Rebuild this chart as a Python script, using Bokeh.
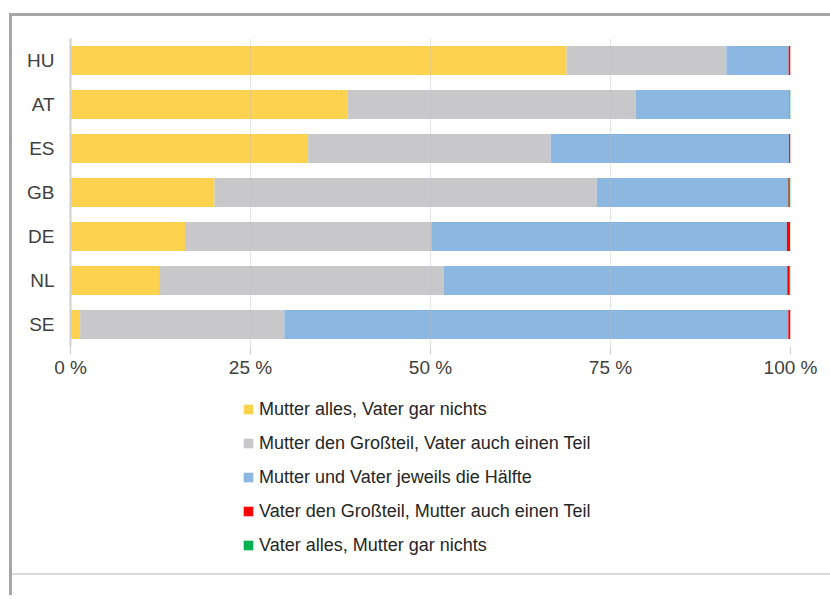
from bokeh.plotting import figure
from bokeh.models import (FactorRange, Range1d, FixedTicker, Legend, LegendItem,
                          Column, Spacer)
from bokeh.embed import file_html
from bokeh.resources import INLINE

countries = ["HU", "AT", "ES", "GB", "DE", "NL", "SE"]
mutter_alles = [68.9, 38.5, 33.0, 20.0, 15.9, 12.3, 1.35]
mutter_grossteil = [22.2, 40.0, 33.7, 53.1, 34.2, 39.5, 28.35]
haelfte = [8.65, 21.35, 33.1, 26.55, 49.4, 47.75, 70.0]
vater_grossteil = [0.25, 0.0, 0.2, 0.1, 0.45, 0.25, 0.3]
vater_alles = [0.0, 0.15, 0.0, 0.25, 0.05, 0.2, 0.0]

series_keys = ["m_alles", "m_gross", "haelfte", "v_gross", "v_alles"]
series_labels = [
    "Mutter alles, Vater gar nichts",
    "Mutter den Großteil, Vater auch einen Teil",
    "Mutter und Vater jeweils die Hälfte",
    "Vater den Großteil, Mutter auch einen Teil",
    "Vater alles, Mutter gar nichts",
]
series_colors = ["#FDD24F", "#C8C8CA", "#8CB7E0", "#FF0000", "#00B050"]
x_ticks = [0, 25, 50, 75, 100]
x_tick_labels = ["0 %", "25 %", "50 %", "75 %", "100 %"]

data = dict(country=countries, m_alles=mutter_alles, m_gross=mutter_grossteil,
            haelfte=haelfte, v_gross=vater_grossteil, v_alles=vater_alles)

FONT = "Liberation Sans"
FS = "19px"
W = 818

# ---------------- main chart ----------------
p = figure(width=W, height=369, output_backend="svg", toolbar_location=None,
           y_range=FactorRange(*reversed(countries)), x_range=Range1d(0, 100),
           min_border_left=58, min_border_right=40, min_border_top=22,
           min_border_bottom=39)
p.outline_line_color = None
p.background_fill_color = "white"
p.border_fill_color = "white"

renderers = p.hbar_stack(series_keys, y="country", height=0.66, color=series_colors,
                         line_color=None, source=data)

p.xaxis.ticker = FixedTicker(ticks=x_ticks)
p.xaxis.major_label_overrides = {t: l for t, l in zip(x_ticks, x_tick_labels)}
p.xaxis.axis_line_color = None
p.xaxis.major_tick_line_color = "#D0D0D0"
p.xaxis.major_tick_out = 8
p.xaxis.major_tick_in = 0
p.xaxis.minor_tick_line_color = None
p.xaxis.major_label_standoff = 2
p.xaxis.major_label_text_font = FONT
p.xaxis.major_label_text_font_size = FS
p.xaxis.major_label_text_color = "#404040"

p.yaxis.axis_line_color = "#D0D0D0"
p.yaxis.axis_line_width = 2
p.yaxis.major_tick_line_color = None
p.yaxis.major_tick_out = 0
p.yaxis.major_tick_in = 0
p.yaxis.minor_tick_line_color = None
p.yaxis.major_label_standoff = 16
p.yaxis.major_label_text_font = FONT
p.yaxis.major_label_text_font_size = FS
p.yaxis.major_label_text_color = "#404040"

p.ygrid.grid_line_color = None
p.xgrid.ticker = FixedTicker(ticks=x_ticks[1:])
p.xgrid.grid_line_color = "#BFBFBF"
p.xgrid.grid_line_alpha = 0.4
p.xgrid.level = "overlay"

# ---------------- legend panel ----------------
pl = figure(width=W, height=188, output_backend="svg", toolbar_location=None,
            x_range=Range1d(0, 1), y_range=Range1d(0, 1),
            x_axis_location=None, y_axis_location=None, min_border=0)
pl.outline_line_color = None
pl.grid.visible = False
# swatch renderers kept outside the visible range; only their legend glyphs show
swatches = [pl.hbar(y=[-10], left=[0], right=[0.1], height=0.5, color=c, line_color=None)
            for c in series_colors]
items = [LegendItem(label=l, renderers=[r]) for l, r in zip(series_labels, swatches)]
legend = Legend(items=items, location=(172, 17), orientation="vertical",
                label_text_font=FONT, label_text_font_size="18px",
                label_text_color="#262626", glyph_width=12, glyph_height=12,
                label_height=22, spacing=12, label_standoff=5,
                padding=10, margin=0, border_line_color=None,
                background_fill_alpha=0)
pl.add_layout(legend, "center")

line = Spacer(width=W, height=2, styles={"background-color": "#DCDCDC"})
filler = Spacer(width=W, height=20)
layout = Column(p, pl, line, filler, spacing=0,
                styles={"margin-left": "9px", "margin-top": "13px",
                        "border-left": "3px solid #A6A6A6",
                        "border-top": "3px solid #A6A6A6"})

open("out.html", "w").write(file_html(layout, INLINE))
